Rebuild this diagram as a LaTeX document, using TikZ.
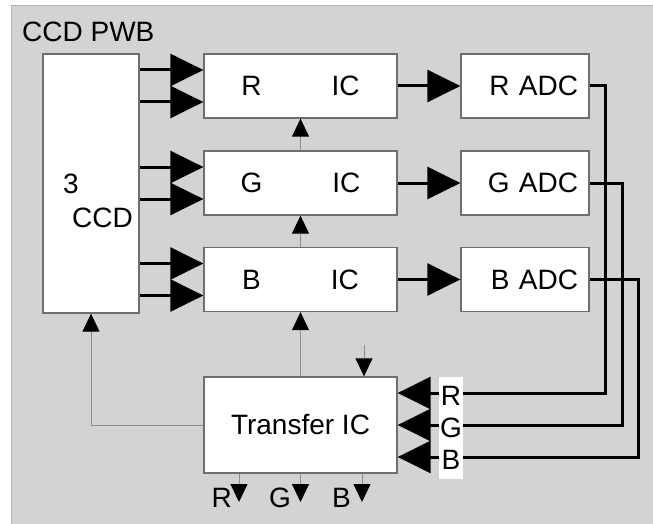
\documentclass[tikz,border=0pt]{standalone}
\usepackage{fontspec}
\setmainfont{Liberation Sans}
\usetikzlibrary{positioning,arrows.meta,calc}
\definecolor{pwbgray}{HTML}{D1D3D4}
\definecolor{edgegray}{HTML}{6D6E71}
\definecolor{wiregray}{HTML}{8A8C8E}
\newcommand{\lbl}{\fontsize{28}{32}\selectfont}
\tikzset{
  blk/.style={draw=edgegray, line width=1.3pt, fill=white, inner sep=0pt, font=\lbl},
  bus/.style={line width=3pt, -{Triangle[length=33pt,width=32pt]}},
  ctl/.style={wiregray, line width=1pt, -{Triangle[length=18pt,width=17pt,color=black]}},
  txt/.style={font=\lbl, inner sep=0pt},
}

\begin{document}
\begin{tikzpicture}[x=1pt, y=-1pt]
    \useasboundingbox (0,0) rectangle (653,524);
    \fill[pwbgray] (11,6) rectangle (653,524);
    \draw[gray!60, line width=1pt] (11,524) -- (11,6) -- (653,6);
    \node[txt, anchor=base west] (pwb) at (22,42) {CCD PWB};
    % sensor block
    \node[blk, minimum width=96pt, minimum height=259pt] (ccd) at (91,183.5) {};
    \node[txt, anchor=base west] (ccdnum) at (63,193) {3};
    \node[txt, anchor=base west] (ccdname) at (72,227) {CCD};
    % colour channels
    \node[blk, minimum width=193pt, minimum height=64pt] (ric) at (300.5,86) {R\hspace{70pt}IC};
    \node[blk, minimum width=193pt, minimum height=64pt] (gic) at (300.5,183) {G\hspace{70pt}IC};
    \node[blk, minimum width=193pt, minimum height=64pt] (bic) at (300.5,279.5) {B\hspace{70pt}IC};
    \node[blk, minimum width=128pt, minimum height=64pt, text width=106pt, align=right] (radc) at (525,86) {R ADC};
    \node[blk, minimum width=128pt, minimum height=64pt, text width=106pt, align=right] (gadc) at (525,183) {G ADC};
    \node[blk, minimum width=128pt, minimum height=64pt, text width=106pt, align=right] (badc) at (525,279.5) {B ADC};
    \node[blk, minimum width=193pt, minimum height=96pt] (xfer) at (300.5,425) {Transfer IC};
    % CCD outputs
    \draw[bus] ([yshift=16pt]ric.west -| ccd.east) -- ([yshift=16pt]ric.west);
    \draw[bus] ([yshift=-16pt]ric.west -| ccd.east) -- ([yshift=-16pt]ric.west);
    \draw[bus] ([yshift=16pt]gic.west -| ccd.east) -- ([yshift=16pt]gic.west);
    \draw[bus] ([yshift=-16pt]gic.west -| ccd.east) -- ([yshift=-16pt]gic.west);
    \draw[bus] ([yshift=16pt]bic.west -| ccd.east) -- ([yshift=16pt]bic.west);
    \draw[bus] ([yshift=-16pt]bic.west -| ccd.east) -- ([yshift=-16pt]bic.west);
    \draw[bus] (ric) -- (radc);
    \draw[bus] (gic) -- (gadc);
    \draw[bus] (bic) -- (badc);
    % control lines
    \draw[ctl] (gic) -- (ric);
    \draw[ctl] (bic) -- (gic);
    \draw[ctl] (xfer) -- (bic);
    \draw[ctl] (xfer.west) -| (ccd.south);
    \coordinate (xferin) at (364,345);
    \draw[ctl] (xferin) -- (xferin |- xfer.north);
    % ADC data back to transfer IC
    \coordinate (rret) at (605,393);
    \coordinate (gret) at (622,425);
    \coordinate (bret) at (638,457);
    \draw[bus] (radc.east) -| (rret) -- (rret -| xfer.east);
    \draw[bus] (gadc.east) -| (gret) -- (gret -| xfer.east);
    \draw[bus] (badc.east) -| (bret) -- (bret -| xfer.east);
    \node[txt, fill=white, minimum width=24pt, minimum height=102pt, align=center] (rgbtag) at (451,428) {R\\G\\B};
    % outputs
    \coordinate (rout) at (239,502);
    \coordinate (gout) at (300.5,502);
    \coordinate (bout) at (362,502);
    \draw[ctl] (rout |- xfer.south) -- (rout);
    \draw[ctl] (gout |- xfer.south) -- (gout);
    \draw[ctl] (bout |- xfer.south) -- (bout);
    \node[txt, anchor=base east] (rlbl) at (232,507) {R};
    \node[txt, anchor=base east] (glbl) at (291,507) {G};
    \node[txt, anchor=base east] (blbl) at (351,507) {B};
\end{tikzpicture}
\end{document}
